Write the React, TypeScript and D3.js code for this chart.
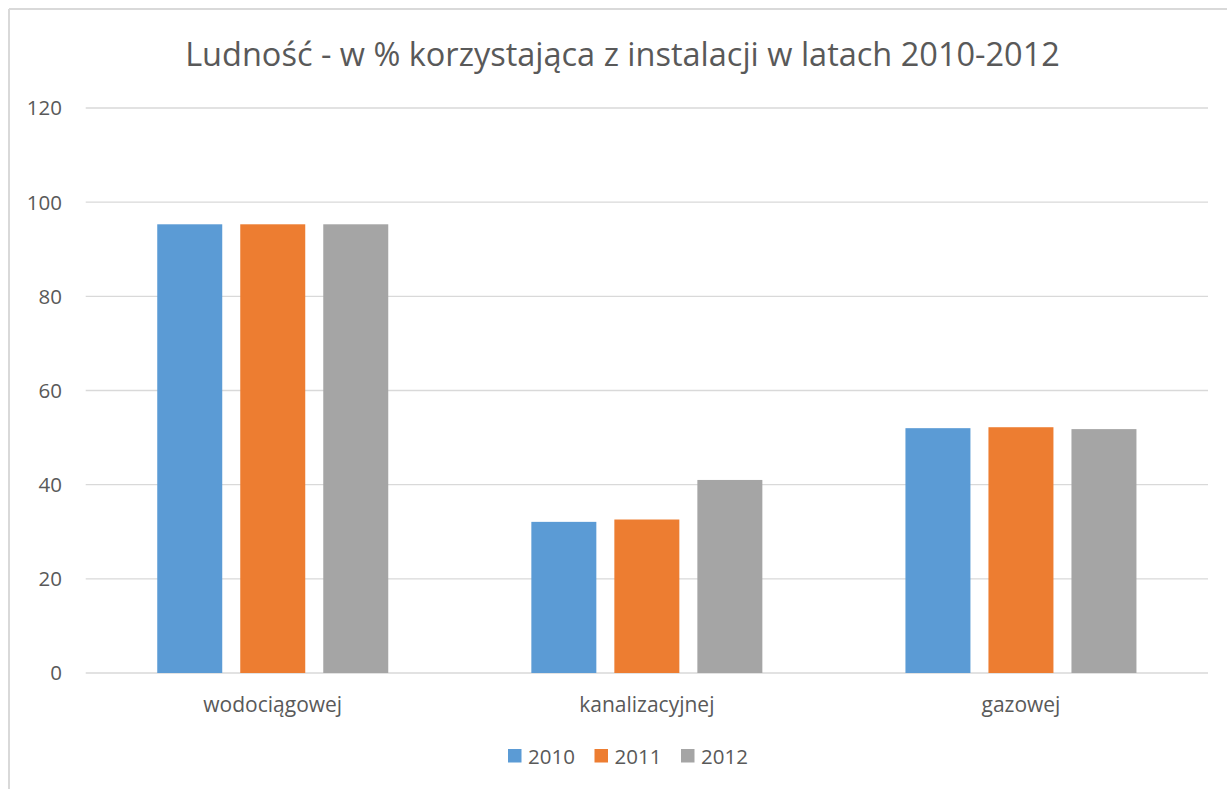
import React from 'react';
import * as d3 from 'd3';

const categories = ['wodociągowej', 'kanalizacyjnej', 'gazowej'];
const seriesNames = ['2010', '2011', '2012'];
const values2010 = [95.3, 32.1, 52.0];
const values2011 = [95.3, 32.6, 52.2];
const values2012 = [95.3, 41.0, 51.8];
const yTicks = [0, 20, 40, 60, 80, 100, 120];
const seriesColors = ['#5B9BD5', '#ED7D31', '#A5A5A5'];
const title = 'Ludność - w % korzystająca z instalacji w latach 2010-2012';

const W = 1227;
const H = 789;
const FONT = "'Open Sans', 'Noto Sans', sans-serif";
const TEXT = '#595959';
const GRID = '#d9d9d9';

export default function App() {
  const series = [values2010, values2011, values2012];
  const left = 85.7;
  const right = 1208;
  const top = 108;
  const bottom = 673;

  const x0 = d3.scaleBand<string>().domain(categories).range([left, right])
    .paddingInner(0.3825).paddingOuter(0.19125);
  const x1 = d3.scaleBand<string>().domain(seriesNames).range([0, x0.bandwidth()])
    .paddingInner(0.217).paddingOuter(0);
  const y = d3.scaleLinear().domain([0, 120]).range([bottom, top]);

  const legendStep = 86.5;
  const legendWidth = legendStep * 2 + 66;
  const legendX = d3.scaleBand<string>().domain(seriesNames)
    .range([627.5 - legendWidth / 2, 627.5 - legendWidth / 2 + legendStep * 3]);

  return (
    <svg width={W} height={H} style={{ position: 'absolute', left: 0, top: 0, background: '#fff' }}
      fontFamily={FONT}>
      <rect x={0} y={0} width={W} height={H} fill="#fff" />
      <line x1={9} y1={9} x2={9} y2={H} stroke={GRID} strokeWidth={2} />
      <line x1={9} y1={9} x2={W} y2={9} stroke={GRID} strokeWidth={2} />
      <text x={622.5} y={66} textAnchor="middle" fontSize={32.5} fill={TEXT}>{title}</text>
      {yTicks.map(t => (
        <g key={t}>
          <line x1={left} x2={right} y1={y(t)} y2={y(t)} stroke={GRID} strokeWidth={1.4} />
          <text x={62} y={y(t)} dy="0.36em" textAnchor="end" fontSize={20.5} fill={TEXT}>{t}</text>
        </g>
      ))}
      {categories.map((c, ci) => (
        <g key={c} transform={`translate(${x0(c)},0)`}>
          {seriesNames.map((s, si) => (
            <rect key={s} x={x1(s)} width={x1.bandwidth()} y={y(series[si][ci])}
              height={y(0) - y(series[si][ci])} fill={seriesColors[si]} />
          ))}
          <text x={x0.bandwidth() / 2} y={712} textAnchor="middle" fontSize={21} fill={TEXT}>{c}</text>
        </g>
      ))}
      {seriesNames.map((s, si) => (
        <g key={s} transform={`translate(${legendX(s)},0)`}>
          <rect x={0} y={749} width={13.5} height={13.5} fill={seriesColors[si]} />
          <text x={20} y={764} fontSize={20.5} fill={TEXT}>{s}</text>
        </g>
      ))}
    </svg>
  );
}
